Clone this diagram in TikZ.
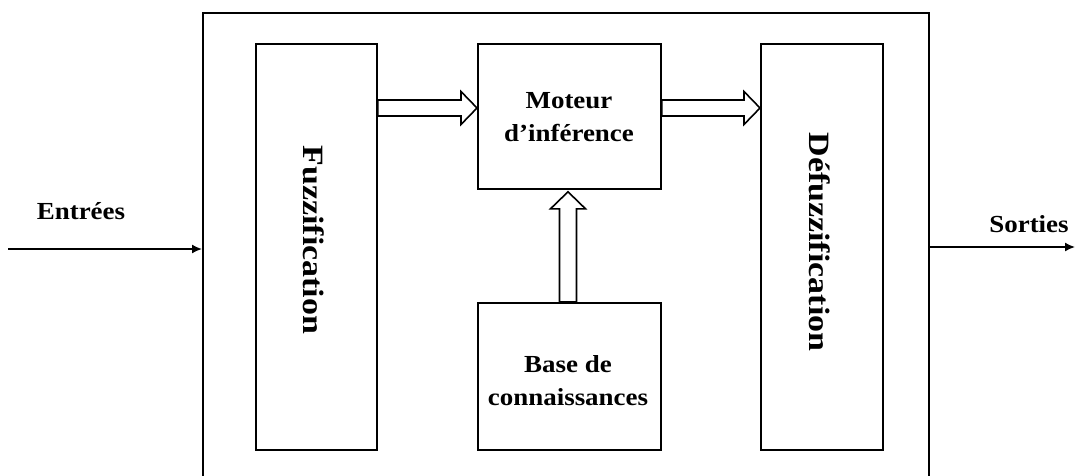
\documentclass[tikz,border=0pt]{standalone}
\usepackage{fontspec}
\setmainfont{Liberation Serif}[FakeStretch=1.1]
\newfontfamily\vfont{Liberation Serif}[FakeStretch=1.15]
\usetikzlibrary{arrows.meta,calc}
\begin{document}
\begin{tikzpicture}[x=1pt,y=-1pt,
  box/.style={draw, line width=1.8pt, inner sep=0pt, anchor=north west},
  hollow/.style={draw, line width=1.6pt, fill=white, line join=miter},
  lbl/.style={font=\fontsize{24.5}{33}\selectfont\bfseries, align=center, inner sep=0pt},
  vlbl/.style={font=\vfont\fontsize{29.5}{34}\selectfont\bfseries, rotate=-90, inner sep=0pt},
  sig/.style={line width=1.6pt, -{Latex[length=10pt,width=9pt]}}]
\clip (0,0) rectangle (1076,476);
\node[box, minimum width=726, minimum height=480] (outer) at (202,12) {};
\node[box, minimum width=121, minimum height=406] (fuzz) at (255,43) {};
\node[box, minimum width=183, minimum height=145] (mot) at (477,43) {};
\node[box, minimum width=183, minimum height=147] (base) at (477,302) {};
\node[box, minimum width=122, minimum height=406] (defuzz) at (760,43) {};
\node[vlbl] (fuzzlbl) at (314,240) {Fuzzification};
\node[vlbl] (defuzzlbl) at (820,242) {Défuzzification};
\node[lbl] (motlbl) at (569,117) {Moteur\\d’inférence};
\node[lbl] (baselbl) at (568,381) {Base de\\connaissances};
% hollow arrows
\coordinate (a1s) at (fuzz.east |- 0,108);
\coordinate (a1e) at (mot.west |- 0,108);
\draw[hollow] ($(a1s)+(0,-8)$) -- ($(a1e)+(-16,-8)$) -- ($(a1e)+(-16,-16.5)$) -- (a1e) -- ($(a1e)+(-16,16.5)$) -- ($(a1e)+(-16,8)$) -- ($(a1s)+(0,8)$) -- cycle;
\coordinate (a2s) at (mot.east |- 0,108);
\coordinate (a2e) at (defuzz.west |- 0,108);
\draw[hollow] ($(a2s)+(0,-8)$) -- ($(a2e)+(-16,-8)$) -- ($(a2e)+(-16,-16.5)$) -- (a2e) -- ($(a2e)+(-16,16.5)$) -- ($(a2e)+(-16,8)$) -- ($(a2s)+(0,8)$) -- cycle;
\coordinate (a3s) at (base.north -| 568,0);
\coordinate (a3e) at ($(mot.south -| 568,0)+(0,2)$);
\draw[hollow] ($(a3s)+(-8.5,0)$) -- ($(a3e)+(-8.5,17)$) -- ($(a3e)+(-17.5,17)$) -- (a3e) -- ($(a3e)+(17.5,17)$) -- ($(a3e)+(8.5,17)$) -- ($(a3s)+(8.5,0)$) -- cycle;
% inputs / outputs
\coordinate (in) at (8,249);
\draw[sig] (in) -- (outer.west |- in);
\node[lbl, anchor=base] (inlbl) at (81,219) {Entrées};
\coordinate (out) at (1075,247);
\draw[sig] (outer.east |- out) -- (out);
\node[lbl, anchor=base] (outlbl) at (1029,232) {Sorties};
\end{tikzpicture}
\end{document}
